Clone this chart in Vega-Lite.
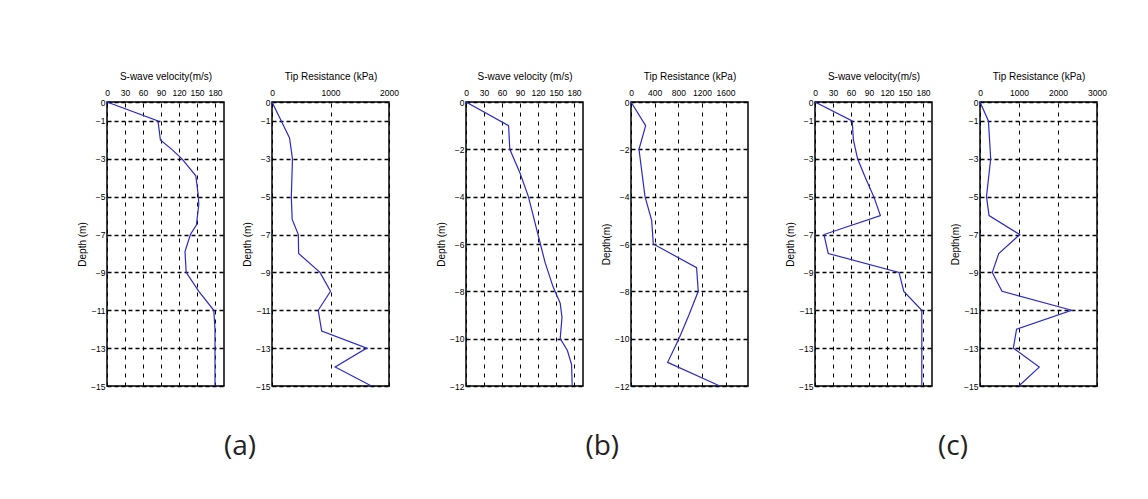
{
  "$schema": "https://vega.github.io/schema/vega-lite/v6.json",
  "background": "white",
  "padding": {"left": 76, "top": 70, "right": 5, "bottom": 5},
  "datasets": {
    "a1": [
      {"d": 0, "v": 0}, {"d": -1, "v": 85}, {"d": -2, "v": 89}, {"d": -2.5, "v": 108}, {"d": -3, "v": 125},
      {"d": -3.9, "v": 148}, {"d": -4.9, "v": 152}, {"d": -5.4, "v": 153}, {"d": -6.5, "v": 149},
      {"d": -7, "v": 139}, {"d": -7.9, "v": 130}, {"d": -9, "v": 132}, {"d": -10, "v": 153},
      {"d": -11, "v": 178}, {"d": -12, "v": 180}, {"d": -15, "v": 180}
    ],
    "a2": [
      {"d": 0, "v": 0}, {"d": -1.9, "v": 300}, {"d": -3, "v": 350}, {"d": -5, "v": 330}, {"d": -6.2, "v": 345},
      {"d": -7, "v": 450}, {"d": -8, "v": 455}, {"d": -9, "v": 820}, {"d": -10, "v": 1000},
      {"d": -11, "v": 790}, {"d": -12.1, "v": 850}, {"d": -13, "v": 1620}, {"d": -14, "v": 1080},
      {"d": -15, "v": 1700}
    ],
    "b1": [
      {"d": 0, "v": 0}, {"d": -1, "v": 71}, {"d": -2, "v": 73}, {"d": -3, "v": 90}, {"d": -4, "v": 104},
      {"d": -4.4, "v": 108}, {"d": -5.4, "v": 118}, {"d": -6, "v": 124}, {"d": -6.8, "v": 132},
      {"d": -7.8, "v": 145}, {"d": -8.5, "v": 157}, {"d": -9.1, "v": 160}, {"d": -10, "v": 157},
      {"d": -10.5, "v": 169}, {"d": -11.1, "v": 176}, {"d": -12, "v": 177}
    ],
    "b2": [
      {"d": 0, "v": 0}, {"d": -1, "v": 248}, {"d": -2, "v": 135}, {"d": -4, "v": 237}, {"d": -5, "v": 350},
      {"d": -6, "v": 377}, {"d": -7, "v": 1110}, {"d": -8, "v": 1138}, {"d": -9, "v": 980},
      {"d": -10, "v": 811}, {"d": -11, "v": 620}, {"d": -12, "v": 1504}
    ],
    "c1": [
      {"d": 0, "v": 0}, {"d": -1, "v": 62}, {"d": -2, "v": 64}, {"d": -3, "v": 71}, {"d": -4, "v": 84},
      {"d": -5, "v": 98}, {"d": -6, "v": 109}, {"d": -7, "v": 15}, {"d": -8, "v": 22}, {"d": -9, "v": 140},
      {"d": -10, "v": 148}, {"d": -11, "v": 178}, {"d": -15, "v": 178}
    ],
    "c2": [
      {"d": 0, "v": 0}, {"d": -1, "v": 216}, {"d": -3, "v": 274}, {"d": -5, "v": 166}, {"d": -6, "v": 232},
      {"d": -7, "v": 1020}, {"d": -8, "v": 481}, {"d": -9, "v": 315}, {"d": -10, "v": 564},
      {"d": -11, "v": 2350}, {"d": -12, "v": 938}, {"d": -13, "v": 855}, {"d": -14, "v": 1519},
      {"d": -15, "v": 996}
    ]
  },
  "config": {
    "view": {"stroke": "black", "strokeWidth": 1.5},
    "axis": {
      "labelFont": "Liberation Sans", "labelFontSize": 8.5, "labelColor": "black",
      "titleFont": "Liberation Sans", "titleFontSize": 10, "titleFontWeight": "normal", "titleColor": "black",
      "domain": false, "ticks": false, "gridColor": "black", "gridOpacity": 1,
      "labelOverlap": false, "labelFlush": false, "format": "d"
    },
    "axisX": {"gridDash": [4, 5], "gridWidth": 1, "labelPadding": 5, "titlePadding": 7},
    "axisY": {"gridDash": [4, 3], "gridWidth": 1.5, "labelPadding": 2, "titlePadding": 3},
    "line": {"color": "#2a2ac8", "strokeWidth": 1.2},
    "title": {"font": "Open Sans", "fontSize": 28, "fontWeight": "normal", "color": "#222222", "anchor": "middle"}
  },
  "spacing": 35,
  "hconcat": [
    {
      "title": {"text": "(a)", "orient": "bottom", "offset": 42, "dx": 2, "anchor": "middle"},
      "spacing": 16,
      "hconcat": [
        {
          "width": 117, "height": 284,
          "data": {"name": "a1"},
          "mark": {"type": "line"},
          "encoding": {
            "x": {"field": "v", "type": "quantitative", "scale": {"domain": [0, 195], "nice": false},
                  "axis": {"orient": "top", "values": [0, 30, 60, 90, 120, 150, 180], "title": "S-wave velocity(m/s)", "grid": true}},
            "y": {"field": "d", "type": "quantitative", "scale": {"domain": [-15, 0], "nice": false},
                  "axis": {"values": [0, -1, -3, -5, -7, -9, -11, -13, -15], "title": "Depth (m)", "grid": true}},
            "order": {"field": "d", "sort": "descending"}
          }
        },
        {
          "width": 117, "height": 284,
          "data": {"name": "a2"},
          "mark": {"type": "line"},
          "encoding": {
            "x": {"field": "v", "type": "quantitative", "scale": {"domain": [0, 2000], "nice": false},
                  "axis": {"orient": "top", "values": [0, 1000, 2000], "title": "Tip Resistance (kPa)", "grid": true}},
            "y": {"field": "d", "type": "quantitative", "scale": {"domain": [-15, 0], "nice": false},
                  "axis": {"values": [0, -1, -3, -5, -7, -9, -11, -13, -15], "title": "Depth (m)", "grid": true}},
            "order": {"field": "d", "sort": "descending"}
          }
        }
      ]
    },
    {
      "title": {"text": "(b)", "orient": "bottom", "offset": 42, "dx": 10, "anchor": "middle"},
      "spacing": 16,
      "hconcat": [
        {
          "width": 117, "height": 284,
          "data": {"name": "b1"},
          "mark": {"type": "line"},
          "encoding": {
            "x": {"field": "v", "type": "quantitative", "scale": {"domain": [0, 195], "nice": false},
                  "axis": {"orient": "top", "values": [0, 30, 60, 90, 120, 150, 180], "title": "S-wave velocity (m/s)", "grid": true}},
            "y": {"field": "d", "type": "quantitative", "scale": {"domain": [-12, 0], "nice": false},
                  "axis": {"values": [0, -2, -4, -6, -8, -10, -12], "title": "Depth (m)", "grid": true}},
            "order": {"field": "d", "sort": "descending"}
          }
        },
        {
          "width": 117, "height": 284,
          "data": {"name": "b2"},
          "mark": {"type": "line"},
          "encoding": {
            "x": {"field": "v", "type": "quantitative", "scale": {"domain": [0, 1980], "nice": false},
                  "axis": {"orient": "top", "values": [0, 400, 800, 1200, 1600], "title": "Tip Resistance (kPa)", "grid": true}},
            "y": {"field": "d", "type": "quantitative", "scale": {"domain": [-12, 0], "nice": false},
                  "axis": {"values": [0, -2, -4, -6, -8, -10, -12], "title": "Depth(m)", "grid": true}},
            "order": {"field": "d", "sort": "descending"}
          }
        }
      ]
    },
    {
      "title": {"text": "(c)", "orient": "bottom", "offset": 42, "dx": 7, "anchor": "middle"},
      "spacing": 16,
      "hconcat": [
        {
          "width": 117, "height": 284,
          "data": {"name": "c1"},
          "mark": {"type": "line"},
          "encoding": {
            "x": {"field": "v", "type": "quantitative", "scale": {"domain": [0, 195], "nice": false},
                  "axis": {"orient": "top", "values": [0, 30, 60, 90, 120, 150, 180], "title": "S-wave velocity(m/s)", "grid": true}},
            "y": {"field": "d", "type": "quantitative", "scale": {"domain": [-15, 0], "nice": false},
                  "axis": {"values": [0, -1, -3, -5, -7, -9, -11, -13, -15], "title": "Depth (m)", "grid": true}},
            "order": {"field": "d", "sort": "descending"}
          }
        },
        {
          "width": 117, "height": 284,
          "data": {"name": "c2"},
          "mark": {"type": "line"},
          "encoding": {
            "x": {"field": "v", "type": "quantitative", "scale": {"domain": [0, 3000], "nice": false},
                  "axis": {"orient": "top", "values": [0, 1000, 2000, 3000], "title": "Tip Resistance (kPa)", "grid": true}},
            "y": {"field": "d", "type": "quantitative", "scale": {"domain": [-15, 0], "nice": false},
                  "axis": {"values": [0, -1, -3, -5, -7, -9, -11, -13, -15], "title": "Depth(m)", "grid": true}},
            "order": {"field": "d", "sort": "descending"}
          }
        }
      ]
    }
  ]
}
